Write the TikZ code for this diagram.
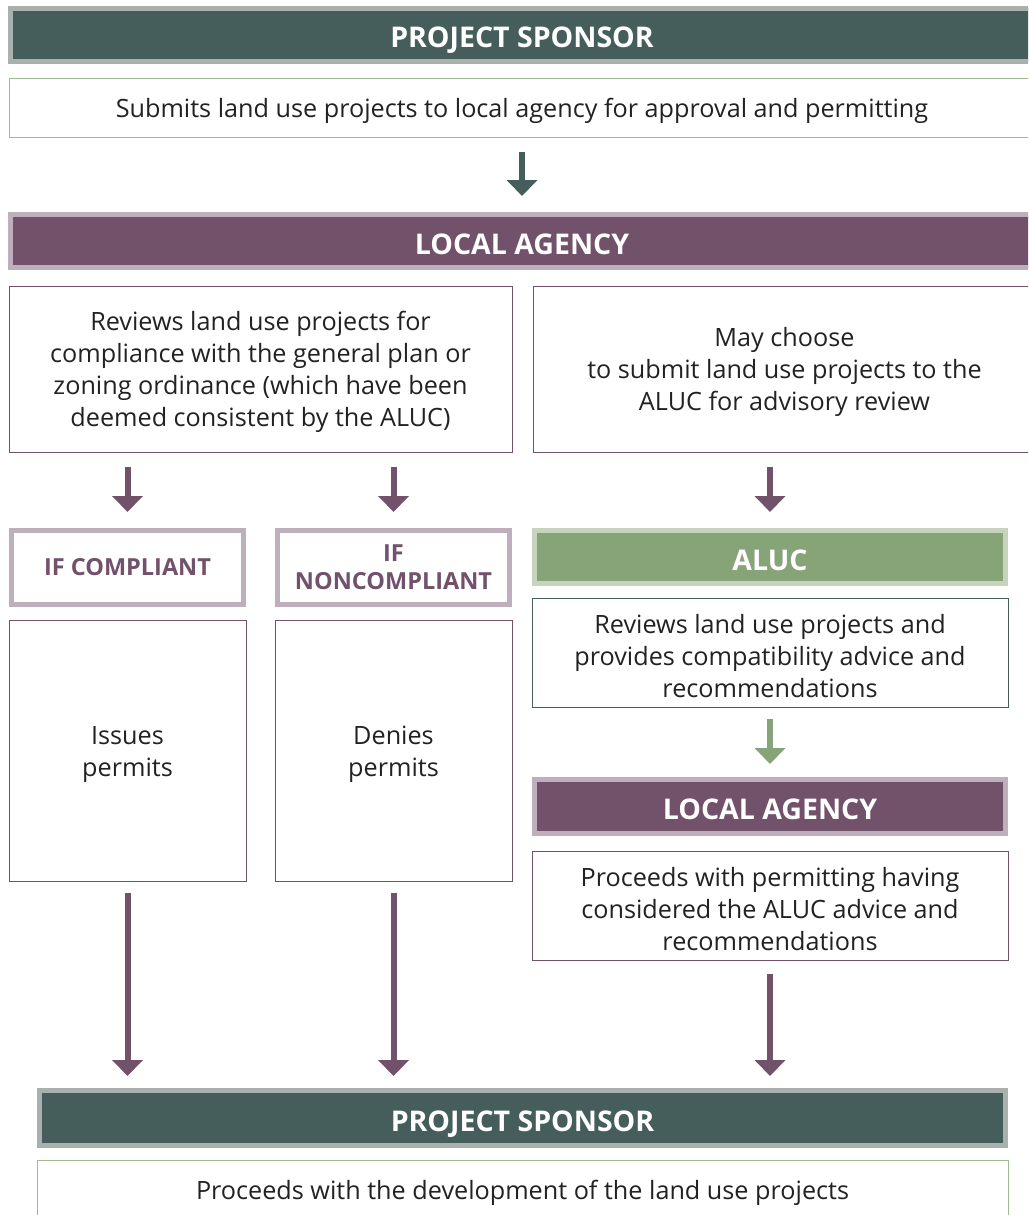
\documentclass[tikz,border=0pt]{standalone}
\usepackage{fontspec}
\setmainfont{Open Sans}
\usetikzlibrary{arrows.meta}

\definecolor{spongreen}{HTML}{455E5C}
\definecolor{sponborder}{HTML}{A9B1AF}
\definecolor{agencypurple}{HTML}{72516B}
\definecolor{agencyborder}{HTML}{BFAEBC}
\definecolor{alucgreen}{HTML}{87A478}
\definecolor{alucborder}{HTML}{C6D4BE}
\definecolor{boxgreen}{HTML}{9DBB8F}
\definecolor{textgray}{HTML}{222222}

% taller first line, so the text sits a little lower in its box
\newcommand{\tstrut}{\rule{0pt}{26pt}}

\begin{document}
\begin{tikzpicture}[x=1pt,y=-1pt,
    band/.style={draw, line width=5pt, text=white, inner sep=0pt, minimum height=53pt,
        text height=26pt, text depth=0pt, font=\fontsize{28.5}{32}\selectfont\bfseries},
    txtbox/.style={draw, line width=1pt, fill=white, text=textgray, align=center, inner sep=0pt,
        font=\fontsize{25.2}{32}\selectfont},
    ifbox/.style={draw=agencyborder, line width=5pt, text=agencypurple, align=center, inner sep=0pt,
        minimum width=232pt, minimum height=74pt, font=\fontsize{23.5}{28}\selectfont\bfseries},
    flow/.style={line width=6pt, -{Triangle[width=30pt,length=16pt]},
        shorten <=14pt, shorten >=16pt}]

    \useasboundingbox (0,0) rectangle (1028,1215);
    \clip (0,0) rectangle (1028,1215);

    % sponsor at the top
    \node[band, fill=spongreen, draw=sponborder, minimum width=1023pt] (spon1) at (522,35) {PROJECT SPONSOR};
    \node[txtbox, draw=boxgreen, minimum width=1026pt, minimum height=59pt] (submit) at (522,107.5)
        {\tstrut Submits land use projects to local agency for approval and permitting};

    % local agency
    \node[band, fill=agencypurple, draw=agencyborder, minimum width=1023pt] (agency1) at (522,241) {LOCAL AGENCY};
    \node[txtbox, draw=agencypurple, minimum width=503pt, minimum height=166pt] (review) at (260.5,369)
        {\tstrut Reviews land use projects for\\compliance with the general plan or\\zoning ordinance (which have been\\deemed consistent by the ALUC)};
    \node[txtbox, draw=agencypurple, minimum width=503pt, minimum height=166pt] (advisory) at (784.5,369)
        {\tstrut May choose\\to submit land use projects to the\\ALUC for advisory review};

    % left branches
    \node[ifbox] (ifcomp) at (127.5,567.5) {IF COMPLIANT};
    \node[ifbox] (ifnon) at (393.5,567.5) {IF\\NONCOMPLIANT};
    \node[txtbox, draw=agencypurple, minimum width=237pt, minimum height=261pt] (issue) at (127.5,750.5) {\tstrut Issues\\permits};
    \node[txtbox, draw=agencypurple, minimum width=237pt, minimum height=261pt] (deny) at (393.5,750.5) {\tstrut Denies\\permits};

    % aluc branch
    \node[band, fill=alucgreen, draw=alucborder, minimum width=471pt] (aluc) at (770,557) {ALUC};
    \node[txtbox, draw=spongreen, minimum width=476pt, minimum height=109pt] (alucrev) at (770,652.5)
        {\tstrut Reviews land use projects and\\provides compatibility advice and\\recommendations};
    \node[band, fill=agencypurple, draw=agencyborder, minimum width=471pt, minimum height=54pt] (agency2) at (770,806.5) {LOCAL AGENCY};
    \node[txtbox, draw=agencypurple, minimum width=476pt, minimum height=109pt] (proceed) at (770,905.5)
        {\tstrut Proceeds with permitting having\\considered the ALUC advice and\\recommendations};

    % sponsor at the bottom
    \node[band, fill=spongreen, draw=sponborder, minimum width=966pt, minimum height=55pt] (spon2) at (522.5,1118) {PROJECT SPONSOR};
    \node[txtbox, draw=boxgreen, minimum width=971pt, minimum height=60pt] (develop) at (522.5,1190)
        {\tstrut Proceeds with the development of the land use projects};

    % arrows
    \draw[flow, spongreen] (submit.south) -- (agency1.north);
    \draw[flow, agencypurple] (review.south -| ifcomp.north) -- (ifcomp.north);
    \draw[flow, agencypurple] (review.south -| ifnon.north) -- (ifnon.north);
    \draw[flow, agencypurple] (advisory.south -| aluc.north) -- (aluc.north);
    \draw[flow, alucgreen, shorten <=11pt, shorten >=13pt] (alucrev.south) -- (agency2.north);
    \draw[flow, agencypurple, shorten <=11pt, shorten >=12pt] (issue.south) -- (spon2.north -| issue.south);
    \draw[flow, agencypurple, shorten <=11pt, shorten >=12pt] (deny.south) -- (spon2.north -| deny.south);
    \draw[flow, agencypurple, shorten <=13pt, shorten >=12pt] (proceed.south) -- (spon2.north -| proceed.south);

\end{tikzpicture}
\end{document}
